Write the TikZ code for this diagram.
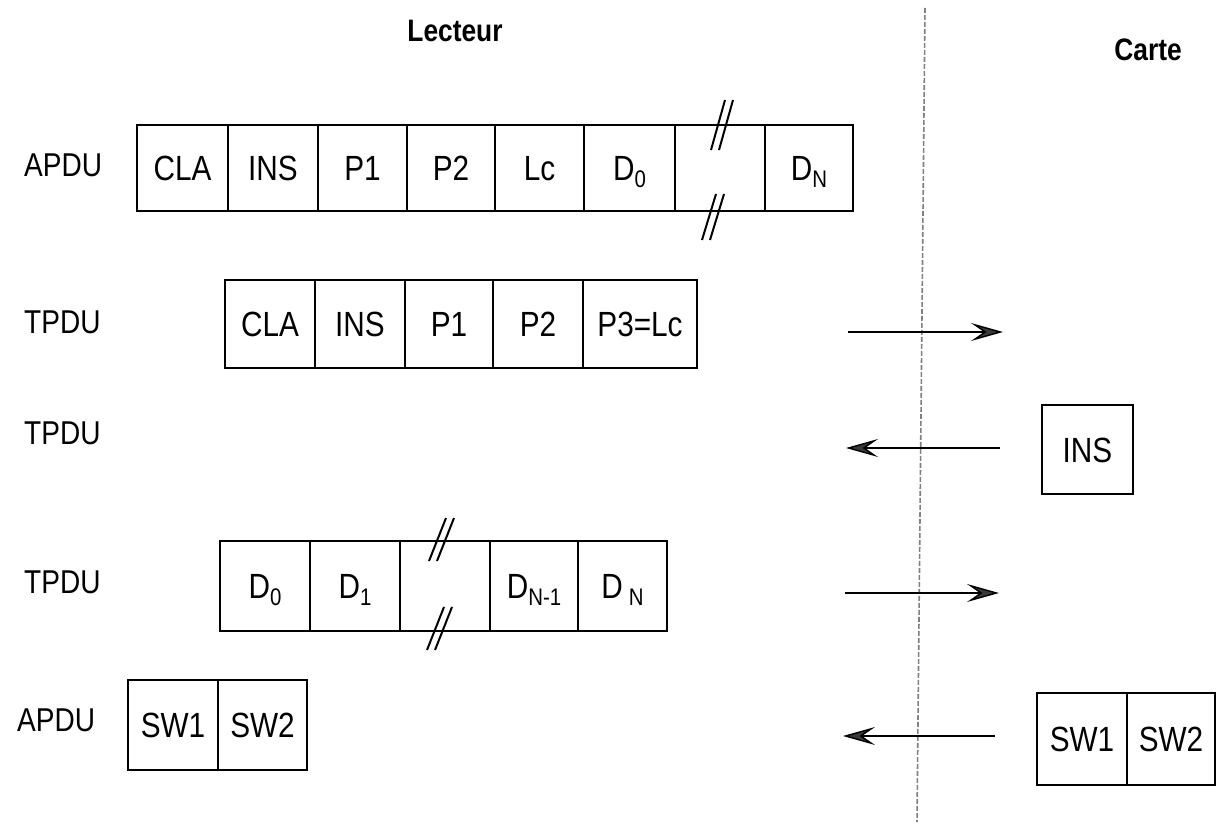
\documentclass[tikz,border=0pt]{standalone}
\usepackage{fontspec}
\setmainfont{Liberation Sans}[FakeStretch=0.85]
\usetikzlibrary{arrows.meta}
\newcommand\lsub[1]{\raisebox{-0.4ex}{\fontsize{24}{24}\selectfont #1}}
\begin{document}
\begin{tikzpicture}[x=1pt,y=-1pt,
  cell/.style={draw, line width=2.4pt, inner sep=0pt, text height=25pt, text depth=0pt, font=\fontsize{35}{40}\selectfont},
  lab/.style={font=\fontsize{33}{38}\selectfont, anchor=west, inner sep=0pt},
  head/.style={font=\bfseries\fontsize{31}{36}\selectfont, inner sep=0pt},
  msg/.style={line width=1.4pt, -{Stealth[length=32pt,width=18pt,inset=13pt,fill=gray!45!black]}},
  brk/.style={line width=2pt},
  sepline/.style={draw=gray, line width=1.6pt, dash pattern=on 5pt off 2pt}]
\useasboundingbox (0,0) rectangle (1226,837);

% headings
\node[head] (lect) at (455,31) {Lecteur};
\node[head] (carte) at (1148,50) {Carte};

% separator
\coordinate (sepT) at (925,8);
\coordinate (sepB) at (917,822);
\draw[sepline] (sepT) -- (sepB);

% row labels
\node[lab] (l1) at (24,165) {APDU};
\node[lab] (l2) at (24,322) {TPDU};
\node[lab] (l3) at (24,433) {TPDU};
\node[lab] (l4) at (24,582) {TPDU};
\node[lab] (l5) at (17,720) {APDU};

% row 1 : APDU command
\begin{scope}[every node/.style={minimum height=86pt}]
\node[cell, minimum width=91pt] (a1) at (182.5,168) {CLA};
\node[cell, minimum width=90pt] (a2) at (273,168) {INS};
\node[cell, minimum width=89pt] (a3) at (362.5,168) {P1};
\node[cell, minimum width=88pt] (a4) at (451,168) {P2};
\node[cell, minimum width=89pt] (a5) at (539.5,168) {Lc};
\node[cell, minimum width=91pt] (a6) at (629.5,168) {D\lsub{0}};
\node[cell, minimum width=90pt] (a7) at (720,168) {};
\node[cell, minimum width=88pt] (a8) at (809,168) {D\lsub{N}};
\end{scope}
\draw[brk] (711,150) -- (725,100);
\draw[brk] (719,150) -- (733,100);
\draw[brk] (702,240) -- (716,194);
\draw[brk] (710,240) -- (724,194);

% row 2 : TPDU header
\begin{scope}[every node/.style={minimum height=88pt}]
\node[cell, minimum width=90pt] (b1) at (270,324) {CLA};
\node[cell, minimum width=90pt] (b2) at (360,324) {INS};
\node[cell, minimum width=88pt] (b3) at (449,324) {P1};
\node[cell, minimum width=90pt] (b4) at (538,324) {P2};
\node[cell, minimum width=114pt] (b5) at (640,324) {P3=Lc};
\end{scope}

% row 3 : INS answer
\node[cell, minimum width=91pt, minimum height=89pt] (c1) at (1087.5,449.5) {INS};

% row 4 : TPDU data
\begin{scope}[every node/.style={minimum height=90pt}]
\node[cell, minimum width=90pt] (d1) at (265,586) {D\lsub{0}};
\node[cell, minimum width=90pt] (d2) at (355,586) {D\lsub{1}};
\node[cell, minimum width=90pt] (d3) at (445,586) {};
\node[cell, minimum width=88pt] (d4) at (534,586) {D\lsub{N-1}};
\node[cell, minimum width=89pt] (d5) at (622.5,586) {D\,\lsub{N}};
\end{scope}
\draw[brk] (429,561) -- (446,518);
\draw[brk] (437,561) -- (454,518);
\draw[brk] (427,650) -- (444,607);
\draw[brk] (435,650) -- (452,607);

% row 5 : status words
\begin{scope}[every node/.style={minimum height=90pt}]
\node[cell, minimum width=90pt] (e1) at (173,725) {SW1};
\node[cell, minimum width=89pt] (e2) at (262.5,725) {SW2};
\node[cell, minimum width=90pt, minimum height=92pt] (f1) at (1082,739) {SW1};
\node[cell, minimum width=88pt, minimum height=92pt] (f2) at (1171,739) {SW2};
\end{scope}

% messages
\coordinate (m1s) at (848,332); \coordinate (m1e) at (1003,332);
\coordinate (m2s) at (1000,448); \coordinate (m2e) at (846,448);
\coordinate (m3s) at (845,593); \coordinate (m3e) at (999,593);
\coordinate (m4s) at (995,736); \coordinate (m4e) at (843,736);
\draw[msg] (m1s) -- (m1e);
\draw[msg] (m2s) -- (m2e);
\draw[msg] (m3s) -- (m3e);
\draw[msg] (m4s) -- (m4e);
\end{tikzpicture}
\end{document}
